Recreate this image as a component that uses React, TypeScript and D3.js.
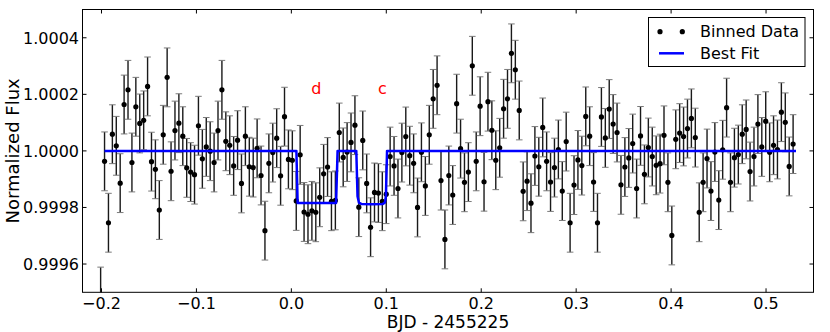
import React from "react";
import * as d3 from "d3";

// Binned data: deviation from 1.0 in ppm, one value per 6-min bin
const fluxPpm: number[] = [
  -515, -37, -254, 59, 18, -114, 164, 216, -41, 156, 97, 108, 228, -38, -65, -209, 57, 260, -72, 72, 98,
  52, -60, -75, -84, 89, -28, 14, -1, -41, 72, 216, 34, 20, -53, 38, -115, 52, -56, -59, 9, -87, -282, -44,
  -6, 45, -88, 121, -30, -33, -177, -14, -216, -224, -212, -217, -164, -81, -57, -178, -175, 65, -23, -4, 30, 91, -199,
  37, -115, -270, -147, -149, -178, -153, -20, -53, -133, -6, 51, -17, -44, -200, -5, -124, 57, 184, 232, -105, -313, -87,
  -156, 167, 8, -111, -75, 301, -37, 158, -109, 174, 73, -33, 11, 149, 184, 345, 287, 143, -143, -107, -185, -18, -56,
  83, -37, -110, -59, 5, -142, 33, -254, -121, -32, -52, 122, 52, -110, -254, 120, 46, 148, 95, 65, -120, -57, -25,
  26, -133, 53, -83, 12, -20, -51, -45, 55, -111, -299, 41, 63, 51, 79, 115, 47, -217, -111, -27, -142, -4, -174,
  4, 153, -111, -24, -13, 59, 76, -73, -20, 95, 14, 105, -5, 20, 5, 137, 101, -55, 24,
];
const T0 = -0.2009; // first bin centre (BJD - 2455225)
const BIN = 0.004121; // bin width (days)
const ERR_PPM = 104; // 1-sigma error per bin

// Best-fit model (time, ppm)
const fitTime: number[] = [-0.1968, 0.0053, 0.0066, 0.0471, 0.0487, 0.0684, 0.0697, 0.0712, 0.0740, 0.0850, 0.0960, 0.0985, 0.0996, 0.1008, 0.5316];
const fitPpm: number[] = [0, 0, -184, -184, 0, 0, -160, -183, -188, -189, -188, -183, -160, 0, 0];

const xTicks = [-0.2, -0.1, 0.0, 0.1, 0.2, 0.3, 0.4, 0.5];
const yTicks = [0.9996, 0.9998, 1.0, 1.0002, 1.0004];

const planetLabels = [
  { name: "d", t: 0.0263 },
  { name: "c", t: 0.0958 },
];

const W = 830;
const H = 332;
const L = 82.5, R = 813.5, T = 9.5, B = 292.3;

export default function App() {
  const x = d3.scaleLinear().domain([-0.22, 0.55]).range([L, R]);
  const y = d3.scaleLinear().domain([0.9995, 1.0005]).range([B, T]);
  const font = "'DejaVu Sans', sans-serif";
  const pts = fluxPpm.map((v, i) => ({ t: T0 + i * BIN, f: 1 + v * 1e-6, e: ERR_PPM * 1e-6 }));
  const fitLine = d3
    .line<number>()
    .x((_, i) => x(fitTime[i]))
    .y((d) => y(1 + d * 1e-6));
  const fmtX = d3.format(".1f");
  const fmtY = d3.format(".4f");
  const tickLen = 4;
  const cap = 3.3;
  return (
    <svg width={W} height={H} style={{ position: "fixed", left: 0, top: 0, background: "#fff" }}>
      <defs>
        <clipPath id="plotclip">
          <rect x={L} y={T} width={R - L} height={B - T} />
        </clipPath>
      </defs>
      <rect x={0} y={0} width={W} height={H} fill="#fff" />
      <g clipPath="url(#plotclip)">
        {pts.map((p, i) => {
          const cx = x(p.t);
          const y1 = y(p.f + p.e);
          const y2 = y(p.f - p.e);
          return (
            <g key={i}>
              <line x1={cx} x2={cx} y1={y1} y2={y2} stroke="#1a1a1a" strokeWidth={1.4} />
              <line x1={cx - cap} x2={cx + cap} y1={y1} y2={y1} stroke="#7a7a7a" strokeWidth={1} />
              <line x1={cx - cap} x2={cx + cap} y1={y2} y2={y2} stroke="#7a7a7a" strokeWidth={1} />
            </g>
          );
        })}
        {pts.map((p, i) => (
          <circle key={"c" + i} cx={x(p.t)} cy={y(p.f)} r={2.6} fill="#000" />
        ))}
        <path d={fitLine(fitPpm) || ""} fill="none" stroke="#0000ff" strokeWidth={2.5} strokeLinejoin="round" />
        {planetLabels.map((l) => (
          <text key={l.name} x={x(l.t)} y={y(1.0002)} fill="#ff0000" fontSize={16} fontFamily={font} textAnchor="middle">
            {l.name}
          </text>
        ))}
      </g>
      {/* frame */}
      <rect x={L} y={T} width={R - L} height={B - T} fill="none" stroke="#000" strokeWidth={1} />
      {/* x ticks */}
      {xTicks.map((t) => (
        <g key={"xt" + t}>
          <line x1={x(t)} x2={x(t)} y1={B} y2={B - tickLen} stroke="#000" strokeWidth={1} />
          <line x1={x(t)} x2={x(t)} y1={T} y2={T + tickLen} stroke="#000" strokeWidth={1} />
          <text x={x(t)} y={308.5} fontSize={16} fontFamily={font} textAnchor="middle" fill="#000">
            {fmtX(t)}
          </text>
        </g>
      ))}
      {/* y ticks */}
      {yTicks.map((t) => (
        <g key={"yt" + t}>
          <line x1={L} x2={L + tickLen} y1={y(t)} y2={y(t)} stroke="#000" strokeWidth={1} />
          <line x1={R} x2={R - tickLen} y1={y(t)} y2={y(t)} stroke="#000" strokeWidth={1} />
          <text x={79} y={y(t) + 5.8} fontSize={16} fontFamily={font} textAnchor="end" fill="#000">
            {fmtY(t)}
          </text>
        </g>
      ))}
      {/* axis labels */}
      <text x={(L + R) / 2} y={327.5} fontSize={17} fontFamily={font} textAnchor="middle" fill="#000">
        BJD - 2455225
      </text>
      <text
        transform={`translate(18.5, ${(T + B) / 2}) rotate(-90)`}
        fontSize={18}
        fontFamily={font}
        textAnchor="middle"
        fill="#000"
      >
        Normalized Flux
      </text>
      {/* legend */}
      <g>
        <rect x={648.5} y={17.5} width={156.5} height={49} fill="#fff" stroke="#000" strokeWidth={1} />
        <circle cx={660} cy={31.7} r={2.6} fill="#000" />
        <circle cx={682.3} cy={31.7} r={2.6} fill="#000" />
        <text x={700} y={37.3} fontSize={16} fontFamily={font} fill="#000">
          Binned Data
        </text>
        <line x1={659} x2={684} y1={53.3} y2={53.3} stroke="#0000ff" strokeWidth={2.5} />
        <text x={700} y={59} fontSize={16} fontFamily={font} fill="#000">
          Best Fit
        </text>
      </g>
    </svg>
  );
}
